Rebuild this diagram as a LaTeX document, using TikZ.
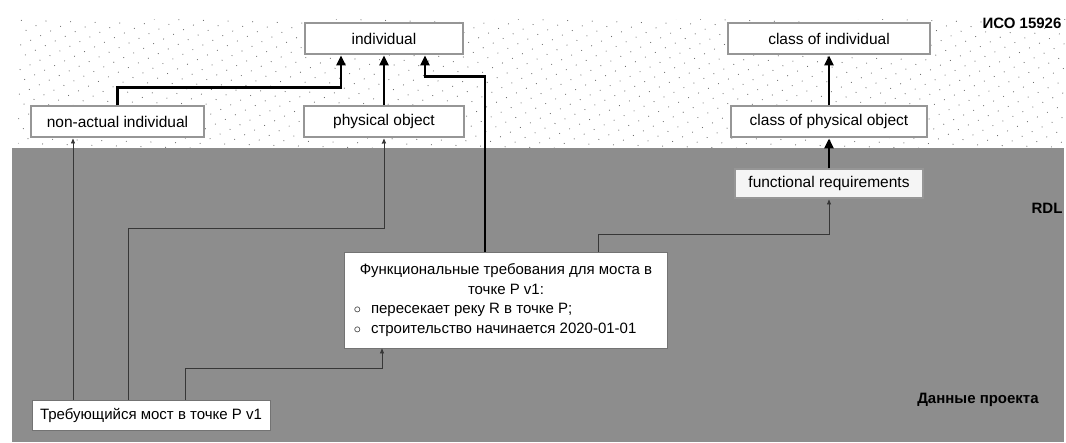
\documentclass[tikz,border=0pt]{standalone}
\usepackage{fontspec}
\setmainfont{Liberation Sans}
\usetikzlibrary{arrows.meta,positioning,patterns.meta}
\definecolor{rdl-gray}{RGB}{141,141,141}
\definecolor{box-edge}{RGB}{150,150,150}
\definecolor{dot-gray}{RGB}{110,110,110}
\definecolor{wire}{RGB}{55,55,55}

\begin{document}
\begin{tikzpicture}[
 x=1pt, y=1pt,
 node distance=50pt and 98pt,
 box/.style={draw=box-edge, fill=white, line width=2pt, align=center,
 font=\fontsize{15.5}{17}\selectfont, minimum height=31pt, inner sep=2pt},
 lowbox/.style={box, draw=black!55, line width=0.9pt},
 zone/.style={font=\fontsize{15}{17}\selectfont\bfseries, inner sep=0pt},
 ar/.style={-{Triangle[length=10pt,width=9pt]}, line width=2.4pt, black},
 thinar/.style={-{Triangle[length=5pt,width=4pt]}, line width=0.7pt, wire},
]
 \useasboundingbox (0,0) rectangle (1066,443);
 \fill[pattern={Dots[distance=11pt,radius=0.6pt,angle=25]}, pattern color=dot-gray] (18,295) rectangle (1066,423);
 \fill[rdl-gray] (12,1) rectangle (1064,295);

 \node[box, minimum width=158pt] (indiv) at (384,404) {individual};
 \node[box, minimum width=160pt, below=of indiv] (physobj) {physical object};
 \node[box, minimum width=173pt, left=of physobj] (nonact) {non-actual individual};
 \node[box, minimum width=202pt] (clsind) at (829,404) {class of individual};
 \node[box, minimum width=196pt, below=of clsind] (clsphys) {class of physical object};
 \node[box, fill=gray!8, minimum width=188pt, minimum height=29pt, below=30pt of clsphys] (funcreq) {functional requirements};
 \node[lowbox, minimum width=323pt, minimum height=96pt, font=\fontsize{15}{19.5}\selectfont] (reqbridge) at (506,143) {%
 \begin{tabular}{@{}l@{\hspace{10pt}}l@{}}
 \multicolumn{2}{c}{Функциональные требования для моста в}\\
 \multicolumn{2}{c}{точке P v1:}\\
 $\circ$ & пересекает реку R в точке P;\\
 $\circ$ & строительство начинается 2020-01-01
 \end{tabular}};
 \node[lowbox, minimum width=238pt, minimum height=30pt, font=\fontsize{15}{17}\selectfont] (bridge) at (151,28) {Требующийся мост в точке P v1};

 \node[zone] (iso) at (1022,420) {ИСО 15926};
 \node[zone] (rdl) at (1047,235) {RDL};
 \node[zone] (proj) at (978,43) {Данные проекта};

 \draw[ar] (nonact.north) -- ++(0,18) -| ([xshift=-43pt]indiv.south);
 \draw[ar] (physobj) -- (indiv);
 \draw[ar] ([xshift=-21pt]reqbridge.north) -- ++(0,175) -| ([xshift=41pt]indiv.south);
 \draw[ar] (clsphys) -- (clsind);
 \draw[ar] (funcreq) -- (clsphys);
 %
 \draw[thinar] ([xshift=-78pt]bridge.north) -- ([xshift=-78pt]bridge.north |- nonact.south);
 \draw[thinar] ([xshift=-23pt]bridge.north) -- ++(0,171) -| (physobj.south);
 \draw[thinar] ([xshift=34pt]bridge.north) -- ++(0,31) -| ([xshift=-124pt]reqbridge.south);
 \draw[thinar] ([xshift=92pt]reqbridge.north) -- ++(0,17) -| (funcreq.south);
\end{tikzpicture}
\end{document}
